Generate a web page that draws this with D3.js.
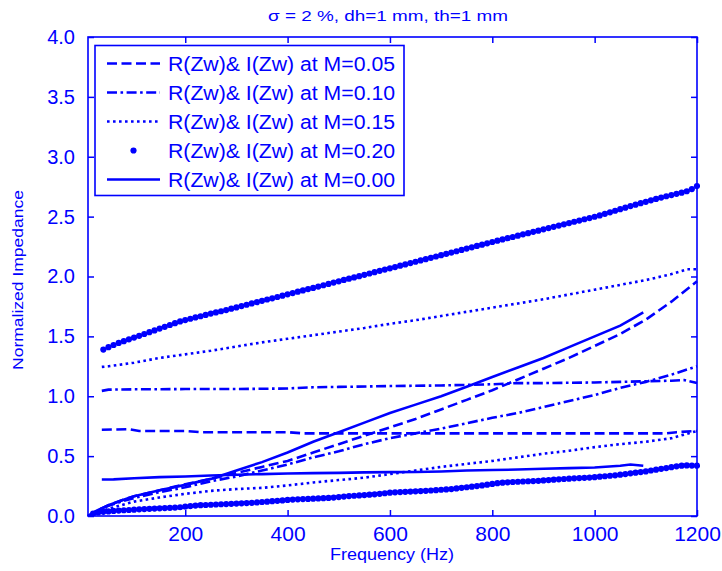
<!DOCTYPE html>
<html><head><meta charset="utf-8">
<script src="https://cdn.jsdelivr.net/npm/d3@7"></script>
<style>body{margin:0;background:#fff}svg{display:block}text{font-family:"Liberation Sans",Arial,sans-serif;fill:#0000ff}</style>
</head><body><div id="chart"></div>
<script>
// ---------- data ----------
const title = "\u03c3 = 2 %, dh=1 mm, th=1 mm";
const xLabel = "Frequency (Hz)";
const yLabel = "Normalized Impedance";
const xTicks = [200, 400, 600, 800, 1000, 1200];
const yTicks = [0, 0.5, 1.0, 1.5, 2.0, 2.5, 3.0, 3.5, 4.0];
const legendLabels = ["R(Zw)& I(Zw) at M=0.05","R(Zw)& I(Zw) at M=0.10","R(Zw)& I(Zw) at M=0.15","R(Zw)& I(Zw) at M=0.20","R(Zw)& I(Zw) at M=0.00"];

// M=0.05 (dashed)
const m05UpperF = [37, 90, 110, 200, 230, 400, 430, 600, 800, 1000, 1140, 1160, 1200];
const m05UpperV = [0.72, 0.725, 0.71, 0.71, 0.70, 0.70, 0.69, 0.69, 0.69, 0.69, 0.69, 0.70, 0.71];
const m05LowerF = [10, 30, 50, 75, 100, 150, 200, 250, 300, 350, 400, 450, 500, 550, 600, 650, 700, 750, 800, 850, 900, 950, 1000, 1050, 1100, 1150, 1200];
const m05LowerV = [0.0, 0.05, 0.09, 0.13, 0.165, 0.215, 0.265, 0.31, 0.36, 0.41, 0.46, 0.53, 0.60, 0.67, 0.74, 0.81, 0.89, 0.97, 1.05, 1.14, 1.23, 1.32, 1.42, 1.52, 1.64, 1.79, 1.96];
// M=0.10 (dash-dot)
const m10UpperF = [37, 50, 100, 200, 300, 400, 450, 500, 600, 700, 800, 850, 900, 1000, 1050, 1100, 1150, 1175, 1200];
const m10UpperV = [1.045, 1.055, 1.058, 1.06, 1.06, 1.065, 1.075, 1.078, 1.085, 1.09, 1.10, 1.11, 1.11, 1.115, 1.12, 1.125, 1.13, 1.135, 1.11];
const m10LowerF = [10, 30, 50, 75, 100, 150, 200, 250, 300, 350, 400, 450, 500, 550, 600, 650, 700, 750, 800, 850, 900, 950, 1000, 1050, 1100, 1150, 1200];
const m10LowerV = [0.0, 0.05, 0.085, 0.12, 0.15, 0.2, 0.24, 0.29, 0.33, 0.38, 0.43, 0.49, 0.54, 0.60, 0.65, 0.69, 0.73, 0.775, 0.82, 0.86, 0.91, 0.96, 1.01, 1.07, 1.12, 1.18, 1.25];
// M=0.15 (dotted)
const m15UpperF = [37, 50, 100, 150, 200, 250, 300, 350, 400, 450, 500, 550, 600, 650, 700, 750, 800, 850, 900, 950, 1000, 1050, 1100, 1150, 1180, 1200];
const m15UpperV = [1.245, 1.25, 1.28, 1.32, 1.35, 1.38, 1.415, 1.45, 1.48, 1.51, 1.54, 1.57, 1.605, 1.635, 1.67, 1.705, 1.74, 1.775, 1.81, 1.85, 1.89, 1.93, 1.97, 2.02, 2.06, 2.06];
const m15LowerF = [10, 30, 50, 100, 150, 200, 250, 300, 350, 400, 450, 500, 550, 600, 650, 700, 750, 800, 850, 900, 950, 1000, 1050, 1100, 1150, 1200];
const m15LowerV = [0.0, 0.03, 0.06, 0.12, 0.155, 0.185, 0.21, 0.225, 0.235, 0.255, 0.28, 0.30, 0.32, 0.35, 0.38, 0.41, 0.435, 0.46, 0.49, 0.52, 0.545, 0.575, 0.60, 0.62, 0.65, 0.71];
// M=0.20 (markers), sampled every 10 Hz
const m20Step = 10;
const m20UpperStart = 40;
const m20UpperV = [1.39,1.41,1.428,1.445,1.46,1.475,1.49,1.505,1.52,1.535,1.55,1.565,1.58,1.595,1.61,1.625,1.636,1.647,1.658,1.668,1.679,1.69,1.70,1.71,1.72,1.731,1.742,1.753,1.764,1.775,1.786,1.797,1.808,1.818,1.829,1.84,1.851,1.862,1.873,1.884,1.895,1.905,1.916,1.927,1.938,1.949,1.96,1.971,1.982,1.992,2.003,2.014,2.025,2.036,2.047,2.058,2.068,2.079,2.09,2.101,2.112,2.123,2.134,2.145,2.156,2.167,2.178,2.189,2.2,2.211,2.222,2.233,2.244,2.255,2.266,2.277,2.288,2.299,2.31,2.32,2.33,2.341,2.352,2.362,2.373,2.383,2.394,2.404,2.415,2.425,2.436,2.446,2.457,2.467,2.478,2.488,2.499,2.51,2.523,2.536,2.549,2.562,2.575,2.588,2.6,2.612,2.624,2.636,2.648,2.659,2.67,2.68,2.69,2.70,2.712,2.73,2.755];
const m20LowerStart = 20;
const m20LowerV = [0.02,0.03,0.035,0.038,0.042,0.045,0.048,0.05,0.053,0.056,0.058,0.06,0.062,0.064,0.066,0.068,0.07,0.073,0.078,0.083,0.087,0.09,0.092,0.094,0.096,0.098,0.10,0.102,0.104,0.106,0.108,0.11,0.113,0.117,0.12,0.124,0.127,0.13,0.134,0.137,0.139,0.141,0.143,0.145,0.147,0.149,0.151,0.154,0.158,0.162,0.166,0.169,0.172,0.175,0.178,0.181,0.185,0.19,0.195,0.198,0.2,0.202,0.204,0.206,0.208,0.21,0.213,0.216,0.219,0.222,0.225,0.23,0.235,0.24,0.245,0.25,0.255,0.262,0.268,0.274,0.278,0.281,0.284,0.286,0.288,0.29,0.292,0.294,0.297,0.3,0.303,0.306,0.309,0.312,0.315,0.317,0.319,0.321,0.324,0.328,0.332,0.336,0.34,0.345,0.35,0.356,0.362,0.367,0.372,0.38,0.387,0.394,0.4,0.408,0.415,0.42,0.422,0.421,0.42];
// M=0.00 (solid), ends at 1095 Hz
const m00UpperF = [37, 60, 100, 150, 200, 250, 300, 350, 400, 450, 500, 550, 600, 650, 700, 750, 800, 850, 900, 950, 1000, 1050, 1070, 1095];
const m00UpperV = [0.305, 0.306, 0.315, 0.325, 0.33, 0.338, 0.345, 0.35, 0.355, 0.358, 0.36, 0.364, 0.366, 0.368, 0.372, 0.38, 0.384, 0.388, 0.395, 0.40, 0.405, 0.42, 0.43, 0.42];
const m00LowerF = [10, 30, 50, 75, 100, 150, 200, 250, 300, 350, 400, 450, 500, 550, 600, 650, 700, 750, 800, 850, 900, 950, 1000, 1050, 1075, 1095];
const m00LowerV = [0.0, 0.05, 0.09, 0.13, 0.165, 0.215, 0.26, 0.31, 0.38, 0.45, 0.53, 0.62, 0.70, 0.78, 0.86, 0.93, 1.0, 1.08, 1.16, 1.24, 1.32, 1.41, 1.50, 1.59, 1.65, 1.70];

// ---------- drawing ----------
const W = 722, H = 571;
const M = {left: 88, right: 697, top: 37, bottom: 516};
const blue = "#0000ff";
const svg = d3.select("#chart").append("svg").attr("width", W).attr("height", H);
const x = d3.scaleLinear().domain([10, 1200]).range([M.left, M.right]);
const y = d3.scaleLinear().domain([0, 4]).range([M.bottom, M.top]);

svg.append("defs").append("clipPath").attr("id","clip").append("rect")
  .attr("x", M.left-3).attr("y", M.top).attr("width", M.right-M.left+6).attr("height", M.bottom-M.top);

const zip = (fs, vs) => fs.map((f,i)=>[f, vs[i]]);
const line = d3.line().x(d=>x(d[0])).y(d=>y(d[1]));
const styles = {
  dashed: "10,4.5",
  dashdot: "10,3.5,2.6,3.5",
  dotted: "2.6,3.4",
  solid: null
};
const LW = 2.6;
const g = svg.append("g").attr("clip-path","url(#clip)");
function drawLine(data, dash){
  g.append("path").attr("d", line(data)).attr("fill","none").attr("stroke",blue)
   .attr("stroke-width",LW).attr("stroke-dasharray", dash);
}
drawLine(zip(m05UpperF, m05UpperV), styles.dashed);
drawLine(zip(m05LowerF, m05LowerV), styles.dashed);
drawLine(zip(m10UpperF, m10UpperV), styles.dashdot);
drawLine(zip(m10LowerF, m10LowerV), styles.dashdot);
drawLine(zip(m15UpperF, m15UpperV), styles.dotted);
drawLine(zip(m15LowerF, m15LowerV), styles.dotted);
drawLine(zip(m00UpperF, m00UpperV), styles.solid);
drawLine(zip(m00LowerF, m00LowerV), styles.solid);
const m20pts = m20UpperV.map((v,i)=>[m20UpperStart + i*m20Step, v])
  .concat(m20LowerV.map((v,i)=>[m20LowerStart + i*m20Step, v]));
g.selectAll("circle.m20").data(m20pts).enter().append("circle")
  .attr("cx", d=>x(d[0])).attr("cy", d=>y(d[1])).attr("r", 3.1).attr("fill", blue);

// axes box
const axG = svg.append("g");
const tl = 6;
axG.append("g").attr("transform",`translate(0,${M.bottom})`)
  .call(d3.axisBottom(x).tickValues(xTicks).tickSizeInner(-tl).tickSizeOuter(0).tickPadding(10).tickFormat(d3.format("d")))
  .call(s=>{s.select(".domain").remove(); s.selectAll("text").attr("font-size",21).attr("dy","0.71em").style("fill",blue);});
axG.append("g").attr("transform",`translate(0,${M.top})`)
  .call(d3.axisTop(x).tickValues(xTicks).tickSizeInner(-tl).tickSizeOuter(0).tickFormat(""))
  .call(s=>s.select(".domain").remove());
axG.append("g").attr("transform",`translate(${M.left},0)`)
  .call(d3.axisLeft(y).tickValues(yTicks).tickSizeInner(-tl).tickSizeOuter(0).tickPadding(13).tickFormat(d3.format(".1f")))
  .call(s=>{s.select(".domain").remove(); s.selectAll("text").attr("font-size",20).style("fill",blue);});
axG.append("g").attr("transform",`translate(${M.right},0)`)
  .call(d3.axisRight(y).tickValues(yTicks).tickSizeInner(-tl).tickSizeOuter(0).tickFormat(""))
  .call(s=>s.select(".domain").remove());
axG.selectAll(".tick line").attr("stroke", blue).attr("stroke-width",1.5);
axG.selectAll("text").attr("font-family",null);
svg.append("rect").attr("x",M.left).attr("y",M.top).attr("width",M.right-M.left).attr("height",M.bottom-M.top)
  .attr("fill","none").attr("stroke",blue).attr("stroke-width",1.6);

// texts
svg.append("text").attr("x",388).attr("y",20.5).attr("text-anchor","middle").attr("font-size",15)
  .attr("textLength",240).attr("lengthAdjust","spacingAndGlyphs").text(title);
svg.append("text").attr("x",392).attr("y",560).attr("text-anchor","middle").attr("font-size",16)
  .attr("textLength",124).attr("lengthAdjust","spacingAndGlyphs").text(xLabel);
svg.append("text").attr("transform","translate(23,280) rotate(-90)").attr("text-anchor","middle").attr("font-size",15)
  .attr("textLength",180).attr("lengthAdjust","spacingAndGlyphs").text(yLabel);

// legend
const lg = svg.append("g");
lg.append("rect").attr("x",95).attr("y",45.5).attr("width",309).attr("height",150)
  .attr("fill","#fff").attr("stroke",blue).attr("stroke-width",1.6);
const legendStyles = [styles.dashed, styles.dashdot, styles.dotted, "marker", styles.solid];
legendLabels.forEach((lab,i)=>{
  const cy = 63.5 + i*29;
  if (legendStyles[i] === "marker") {
    lg.append("circle").attr("cx",133.5).attr("cy",cy).attr("r",3.1).attr("fill",blue);
  } else {
    lg.append("line").attr("x1",107).attr("x2",160).attr("y1",cy).attr("y2",cy)
      .attr("stroke",blue).attr("stroke-width",LW).attr("stroke-dasharray",legendStyles[i]);
  }
  lg.append("text").attr("x",168).attr("y",cy).attr("dy","0.36em").attr("font-size",20)
    .attr("textLength",227).attr("lengthAdjust","spacingAndGlyphs").text(lab);
});
</script></body></html>
